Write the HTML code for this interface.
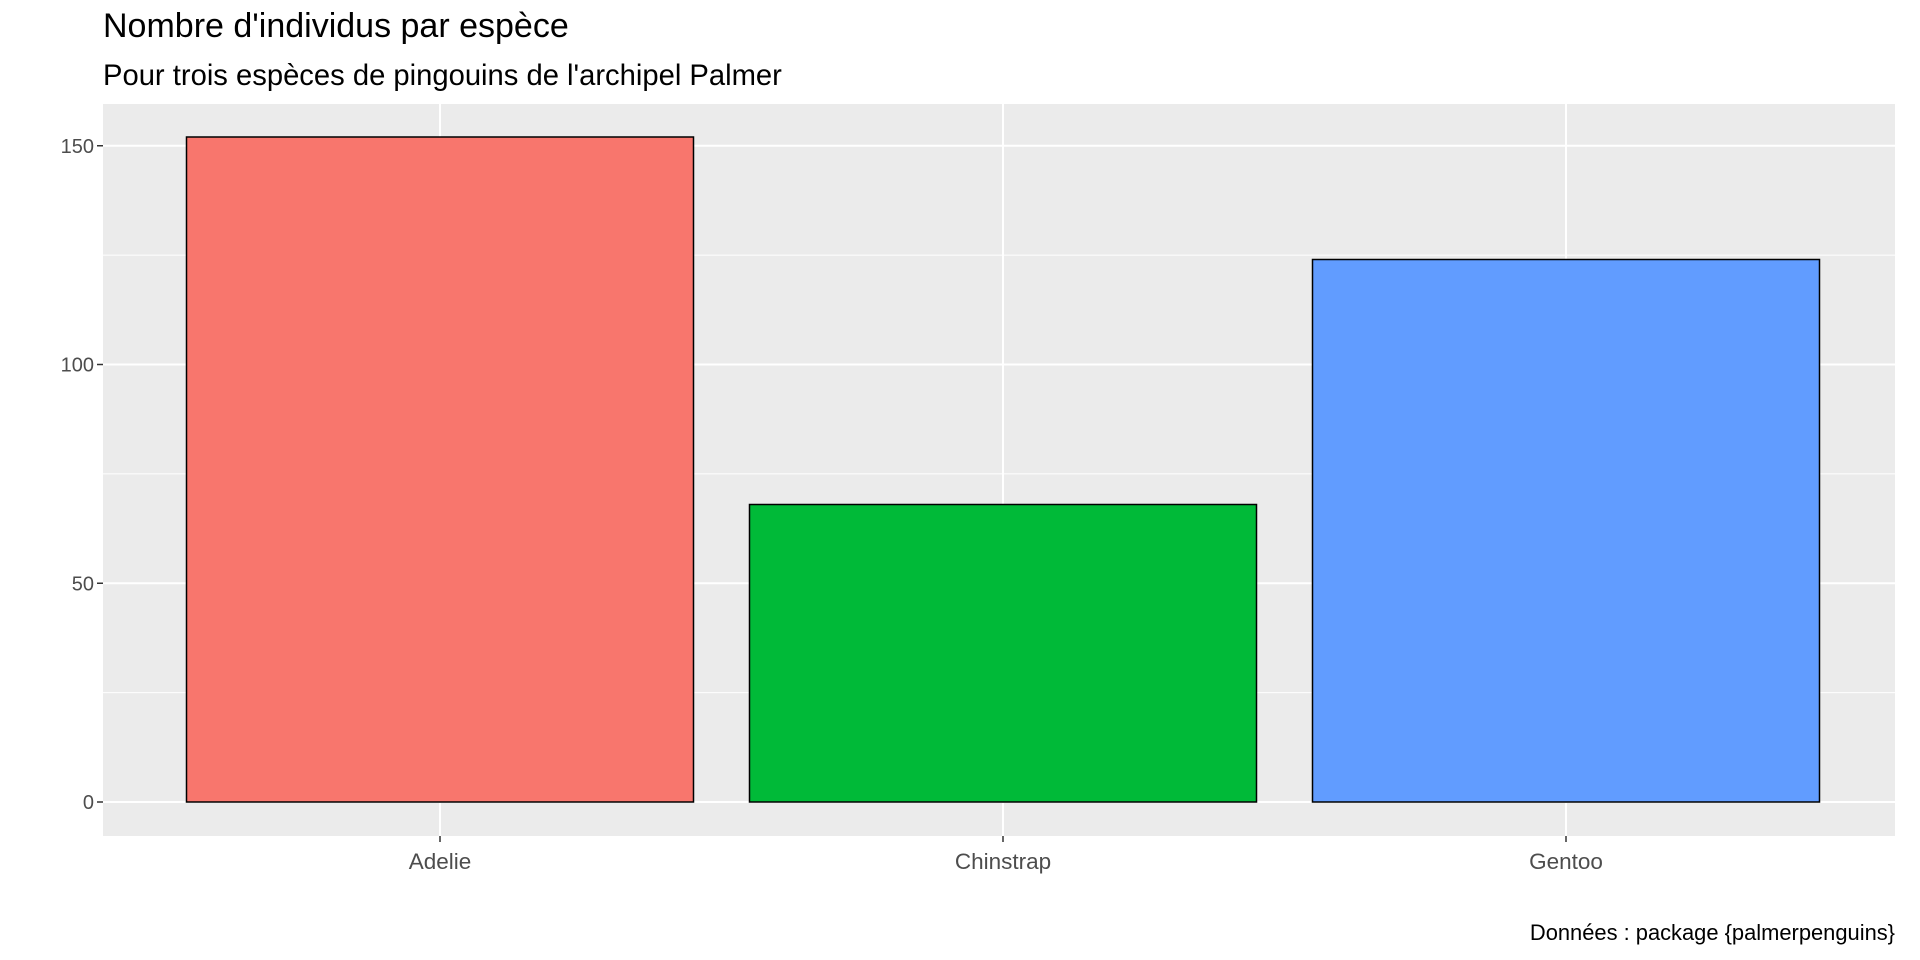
<!DOCTYPE html>
<html><head><meta charset="utf-8"><style>
body{margin:0;background:#fff;}
svg{display:block;font-family:"Liberation Sans",Arial,sans-serif;}
</style></head><body>
<svg id="chart" width="1920" height="960">
<text x="103" y="37" font-size="34" fill="#000">Nombre d'individus par espèce</text>
<text x="103" y="85" font-size="29.2" fill="#000">Pour trois espèces de pingouins de l'archipel Palmer</text>
<rect x="103" y="104" width="1792" height="732" fill="#ebebeb"/>
<g id="grid"></g><g id="bars"></g><g id="axes"></g>
<text x="1895" y="940" font-size="21.9" text-anchor="end" fill="#000">Données : package {palmerpenguins}</text>
</svg>
<script>
const categories=["Adelie","Chinstrap","Gentoo"];
const counts=[152,68,124];
const colors=["#F8766D","#00BA38","#619CFF"];
const yTicks=[0,50,100,150];
const NS="http://www.w3.org/2000/svg";
const y=v=>802-v*4.375;
const x=i=>440+i*563;
function mk(t,a,p){const e=document.createElementNS(NS,t);for(const k in a)e.setAttribute(k,a[k]);p.appendChild(e);return e;}
const grid=document.getElementById('grid'),bars=document.getElementById('bars'),axes=document.getElementById('axes');
for(let v=25;v<=175;v+=50){if(y(v)>104){const l=mk('line',{x1:103,x2:1895,y1:y(v),y2:y(v),stroke:'#fff','stroke-width':1},grid);

}}
yTicks.forEach(v=>{const l=mk('line',{x1:103,x2:1895,y1:y(v),y2:y(v),stroke:'#fff','stroke-width':2},grid);


const t=mk('line',{x1:97,x2:103,y1:y(v),y2:y(v),stroke:'#333','stroke-width':1.5},axes);


const tx=mk('text',{x:94,y:y(v)+7,'font-size':20,'text-anchor':'end',fill:'#4d4d4d'},axes);tx.textContent=v;

});
categories.forEach((c,i)=>{const g=mk('line',{x1:x(i),x2:x(i),y1:104,y2:836,stroke:'#fff','stroke-width':2},grid);


const w=507;const r=mk('rect',{x:x(i)-w/2,y:y(counts[i]),width:w,height:y(0)-y(counts[i]),fill:colors[i],stroke:'#000','stroke-width':1.5},bars);


const t=mk('line',{x1:x(i),x2:x(i),y1:836,y2:842,stroke:'#333','stroke-width':1.5},axes);


const tx=mk('text',{x:x(i),y:869,'font-size':22.5,'text-anchor':'middle',fill:'#4d4d4d'},axes);tx.textContent=c;

});
</script>
</body></html>
